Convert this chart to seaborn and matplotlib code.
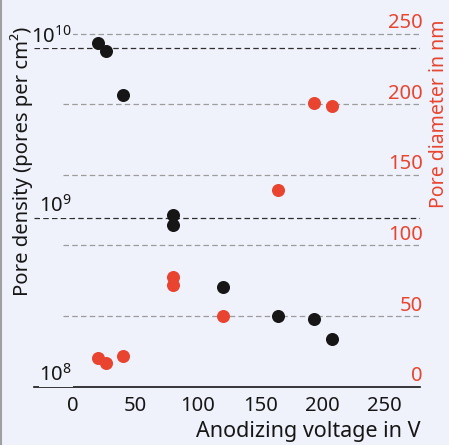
import matplotlib
matplotlib.use("Agg")
import matplotlib.pyplot as plt
import matplotlib.transforms as mtransforms
from matplotlib.lines import Line2D
from matplotlib.ticker import NullLocator
import seaborn as sns
import pandas as pd

# Anodizing voltage (V) with the measured pore density and pore diameter
voltage = [20, 26, 40, 80, 80, 120, 164, 193, 208]
pore_density = [1.07e10, 9.6e9, 5.3e9, 1.035e9, 9.0e8, 3.9e8, 2.62e8, 2.5e8, 1.91e8]
pore_diameter = [20, 17, 22, 78, 72, 50, 139, 201, 199]

voltage_ticks = [0, 50, 100, 150, 200, 250]
density_exponents = [8, 9, 10]
diameter_ticks = [0, 50, 100, 150, 200, 250]

BG = "#eff2fb"
RED = "#e8442f"
INK = "#161616"
GRID_DARK = "#2e2e2e"
GRID_LIGHT = "#9c9c9c"

sns.set_theme(style="white")
plt.rcParams["font.family"] = ["Noto Sans", "DejaVu Sans"]
plt.rcParams["mathtext.fontset"] = "custom"
plt.rcParams["mathtext.rm"] = "Noto Sans"
plt.rcParams["mathtext.it"] = "Noto Sans:italic"

df = pd.DataFrame({"voltage": voltage, "density": pore_density, "diameter": pore_diameter})

W, H = 449, 445
fig = plt.figure(figsize=(W / 100, H / 100), dpi=100, facecolor=BG)
ax_bottom_px = 386.7
ax = fig.add_axes([34 / W, (H - ax_bottom_px) / H, 386 / W, ax_bottom_px / H])
ax.set_facecolor(BG)
ax.set_yscale("log")
ax2 = ax.twinx()

sns.scatterplot(data=df, x="voltage", y="density", ax=ax, color=INK, s=88,
                linewidth=0, zorder=3)
sns.scatterplot(data=df, x="voltage", y="diameter", ax=ax2, color=RED, s=88,
                linewidth=0, zorder=3)

ax.set_xlim(-31.5, 278.3)
ax.set_ylim(1e8, 10 ** (8 + ax_bottom_px / 169.2))
ax2.set_ylim(0, ax_bottom_px / 1.412)

# dashed guides for the diameter scale (light) and the density decades (dark)
light_tr = mtransforms.blended_transform_factory(ax.transAxes, ax2.transData)
for d in diameter_ticks[1:]:
    ax.plot([0.0751, 1.0], [d, d], transform=light_tr, color=GRID_LIGHT, lw=0.9,
            ls=(0, (4.4, 2.6)), zorder=1.5)
for e in density_exponents[1:]:
    ax.axhline(10 ** e, color=GRID_DARK, lw=0.9, ls=(0, (4.4, 2.6)), zorder=1.6)

# decade labels above their guide lines
for e in density_exponents:
    ax.annotate(r"$\mathregular{10^{%d}}$" % e, xy=(0.0984, 10 ** e),
                xycoords=("axes fraction", "data"), xytext=(0, 5.5),
                textcoords="offset pixels", ha="right", va="baseline",
                fontsize=14.5, color=INK, zorder=4,
                bbox=dict(fc=BG, ec="none", pad=0.5))

# diameter labels above their guide lines, right side
for d in diameter_ticks:
    ax2.annotate(str(d), xy=(1.0078, d), xycoords=("axes fraction", "data"),
                 xytext=(0, 5.5), textcoords="offset pixels", ha="right",
                 va="baseline", fontsize=14.5, color=RED)

ax.set_xticks(voltage_ticks)
ax.set_xticklabels([str(v) for v in voltage_ticks])
ax.tick_params(axis="x", length=0, pad=6.5, labelsize=14.5, colors=INK)
ax.yaxis.set_major_locator(NullLocator())
ax.yaxis.set_minor_locator(NullLocator())
ax2.yaxis.set_major_locator(NullLocator())
ax2.yaxis.set_minor_locator(NullLocator())
ax.set_ylabel("")
ax2.set_ylabel("")

for name, sp in ax.spines.items():
    sp.set_visible(name == "bottom")
for sp in ax2.spines.values():
    sp.set_visible(False)
ax.spines["bottom"].set_color(INK)
ax.spines["bottom"].set_linewidth(1.2)

ax.set_xlabel("Anodizing voltage in V", fontsize=15.5, color=INK)
ax.xaxis.set_label_coords(1.0, -50.3 / ax_bottom_px)
ax.xaxis.label.set_ha("right")
ax.xaxis.label.set_va("baseline")

fig.text(28.3 / W, 1 - 161.5 / H, "Pore density (pores per cm²)", rotation=90,
         rotation_mode="anchor", ha="center", va="baseline", fontsize=14.6, color=INK)
fig.text(443.5 / W, 1 - 113.5 / H, "Pore diameter in nm", rotation=90,
         rotation_mode="anchor", ha="center", va="baseline", fontsize=14, color=RED)

fig.add_artist(Line2D([1 / W, 1 / W], [0, 1], transform=fig.transFigure,
                      color="#a0a0a0", lw=1.5))

fig.savefig("out.png", dpi=100, facecolor=BG)
